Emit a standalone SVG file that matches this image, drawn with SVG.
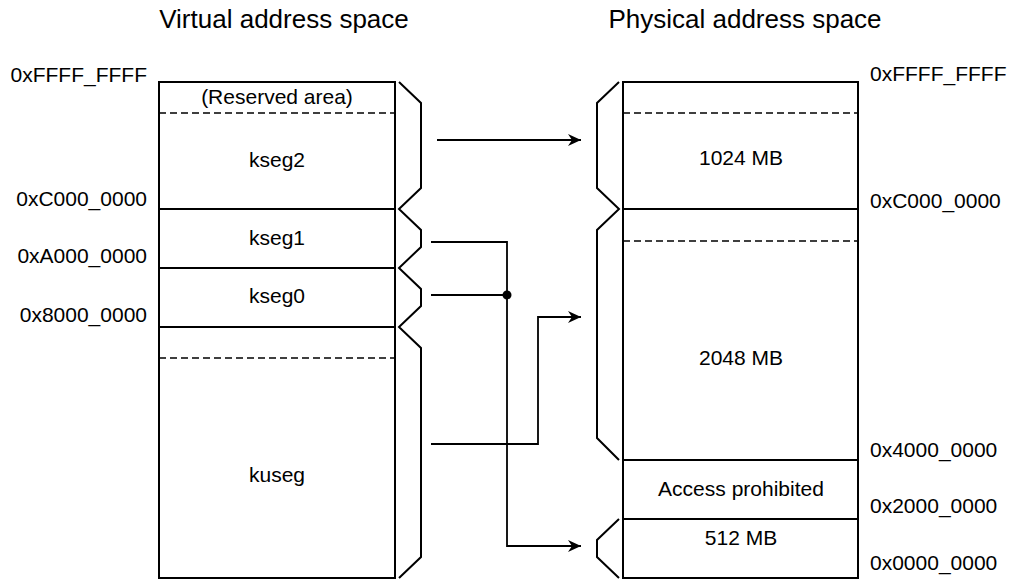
<svg xmlns="http://www.w3.org/2000/svg" width="1010" height="581" viewBox="0 0 1010 581">
<style>
text{font-family:"Liberation Sans",Arial,sans-serif;fill:#000}
.t{font-size:26px;text-anchor:middle}
.l{font-size:21px;text-anchor:middle}
.al{font-size:21px;text-anchor:end}
.ar{font-size:21px;text-anchor:start}
.box{fill:#fff;stroke:#000;stroke-width:2}
.sep{stroke:#000;stroke-width:2;fill:none}
.dash{stroke:#000;stroke-width:1.6;stroke-dasharray:7 4;fill:none}
.brace{stroke:#000;stroke-width:2;fill:none;stroke-linejoin:miter}
.conn{stroke:#000;stroke-width:1.8;fill:none}
</style>
<defs>
<marker id="ah" markerUnits="userSpaceOnUse" markerWidth="16" markerHeight="16" refX="13" refY="0" viewBox="-1 -8 16 16" orient="auto">
<path d="M0,-6 L13,0 L0,6 L4,0 z" fill="#000"/>
</marker>
</defs>
<text class="t" x="284" y="28">Virtual address space</text>
<text class="t" x="745" y="28">Physical address space</text>

<g id="virtual">
<rect class="box" x="159" y="82" width="236" height="496"/>
<line class="dash" x1="159" y1="113" x2="395" y2="113"/>
<line class="sep" x1="159" y1="209" x2="395" y2="209"/>
<line class="sep" x1="159" y1="268" x2="395" y2="268"/>
<line class="sep" x1="159" y1="327" x2="395" y2="327"/>
<line class="dash" x1="159" y1="358" x2="395" y2="358"/>
<text class="l" x="277" y="104">(Reserved area)</text>
<text class="l" x="277" y="167">kseg2</text>
<text class="l" x="277" y="245">kseg1</text>
<text class="l" x="277" y="303">kseg0</text>
<text class="l" x="277" y="482">kuseg</text>
<polyline class="brace" points="399,82 421,103 421,188 399,209 421,230 421,247 399,268 421,289 421,306 399,327 421,348 421,557 399,578"/>
</g>

<g id="virtual-addresses">
<text class="al" x="147" y="82">0xFFFF_FFFF</text>
<text class="al" x="147" y="206">0xC000_0000</text>
<text class="al" x="147" y="263">0xA000_0000</text>
<text class="al" x="147" y="322">0x8000_0000</text>
</g>

<g id="physical">
<rect class="box" x="623" y="82" width="235" height="496"/>
<line class="dash" x1="623" y1="113" x2="858" y2="113"/>
<line class="sep" x1="623" y1="209" x2="858" y2="209"/>
<line class="dash" x1="623" y1="241" x2="858" y2="241"/>
<line class="sep" x1="623" y1="460" x2="858" y2="460"/>
<line class="sep" x1="623" y1="519" x2="858" y2="519"/>
<text class="l" x="741" y="165">1024 MB</text>
<text class="l" x="741" y="365">2048 MB</text>
<text class="l" x="741" y="496">Access prohibited</text>
<text class="l" x="741" y="545">512 MB</text>
<polyline class="brace" points="619,82 597,103 597,188 619,209 597,230 597,438 619,460"/>
<polyline class="brace" points="619,519 597,540 597,557 619,578"/>
</g>

<g id="physical-addresses">
<text class="ar" x="870" y="81">0xFFFF_FFFF</text>
<text class="ar" x="870" y="208">0xC000_0000</text>
<text class="ar" x="870" y="457">0x4000_0000</text>
<text class="ar" x="870" y="513">0x2000_0000</text>
<text class="ar" x="870" y="570">0x0000_0000</text>
</g>

<g id="connectors">
<path class="conn" d="M437,140 H581" marker-end="url(#ah)"/>
<path class="conn" d="M431,242 H507 V546 H581" marker-end="url(#ah)"/>
<path class="conn" d="M431,295 H507"/>
<circle cx="507" cy="295" r="4.5" fill="#000"/>
<path class="conn" d="M431,444 H538 V317 H581" marker-end="url(#ah)"/>
</g>
</svg>
